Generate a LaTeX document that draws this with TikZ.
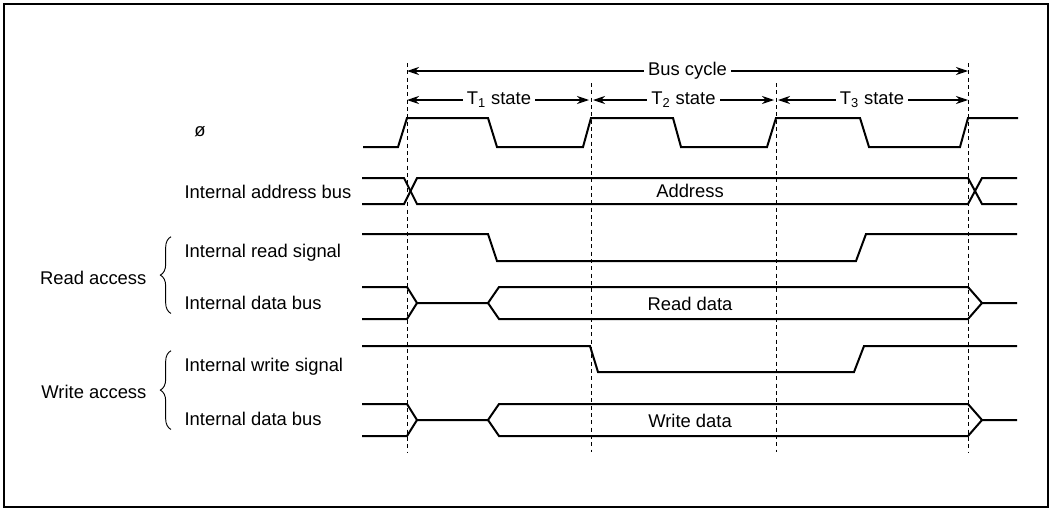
\documentclass[tikz,border=0pt]{standalone}
\usepackage{fontspec}
\setmainfont{Liberation Sans}
\usetikzlibrary{arrows.meta,decorations.pathreplacing}

\begin{document}
\begin{tikzpicture}[x=0.75pt,y=-0.75pt,
    wave/.style={line width=1.5pt,line join=miter},
    guide/.style={line width=0.6pt,dash pattern=on 3pt off 2.5pt},
    span/.style={line width=0.8pt,{Stealth[length=9pt,width=6pt]}-{Stealth[length=9pt,width=6pt]}},
    lbl/.style={font=\fontsize{13.8}{16}\selectfont,inner sep=1pt},
    sig/.style={lbl,anchor=base west},
    tag/.style={lbl,fill=white,inner xsep=3pt},
    curly/.style={line width=0.7pt,decorate,decoration={brace,amplitude=8pt}}]

  \useasboundingbox (0,0) rectangle (1052,511);
  \draw[line width=1.2pt] (4,4) rectangle (1048,507);

  % state boundaries
  \foreach \n/\x/\t in {a/407/63,b/591/83,c/776/83,d/968/63}{
    \coordinate (\n top) at (\x,\t);
    \coordinate (\n bot) at (\x,452);
    \draw[guide] (\n top) -- (\n bot);
  }

  % bus cycle and states
  \coordinate (cycA) at (407,71);
  \coordinate (cycD) at (968,71);
  \coordinate (stA) at (407,100);
  \coordinate (stB) at (591,100);
  \coordinate (stC) at (776,100);
  \coordinate (stD) at (968,100);
  \draw[span] (cycA) -- (cycD) node[tag,midway] (cyc) {Bus cycle};
  \draw[span,shorten >=1.5pt] (stA) -- (stB) node[tag,midway] (t1) {T\textsubscript{1} state};
  \draw[span,shorten <=1.5pt,shorten >=1.5pt] (stB) -- (stC) node[tag,midway] (t2) {T\textsubscript{2} state};
  \draw[span,shorten <=1.5pt] (stC) -- (stD) node[tag,midway] (t3) {T\textsubscript{3} state};

  % signal names
  \node[lbl] (clk) at (200,132) {ø};
  \node[sig] (addr) at (183,198) {Internal address bus};
  \node[sig] (rdsig) at (183,257) {Internal read signal};
  \node[sig] (rdbus) at (183,309) {Internal data bus};
  \node[sig] (wrsig) at (183,371) {Internal write signal};
  \node[sig] (wrbus) at (183,425) {Internal data bus};
  \node[lbl,anchor=base east] (rdacc) at (148,284) {Read access};
  \node[lbl,anchor=base east] (wracc) at (148,398) {Write access};
  \draw[curly] ([xshift=-9pt,yshift=-2pt]rdbus.south west) -- ([xshift=-9pt,yshift=4pt]rdsig.north west);
  \draw[curly] ([xshift=-9pt,yshift=-2pt]wrbus.south west) -- ([xshift=-9pt,yshift=4pt]wrsig.north west);

  % clock
  \draw[wave] (363,147) -- (398,147) -- (407,118) -- (488,118) -- (497,147)
    -- (583,147) -- (591,118) -- (673,118) -- (681,147) -- (767,147)
    -- (776,118) -- (860,118) -- (869,147) -- (960,147) -- (968,118) -- (1018,118);

  % address bus
  \draw[wave] (362,178) -- (404,178) -- (417,204) -- (968,204) -- (982,178) -- (1017,178);
  \draw[wave] (362,204) -- (404,204) -- (417,178) -- (968,178) -- (982,204) -- (1017,204);
  \node[lbl] (adv) at (690,191) {Address};

  % read access
  \draw[wave] (362,234) -- (488,234) -- (497,261) -- (856,261) -- (866,234) -- (1017,234);
  \draw[wave] (362,287) -- (407,287) -- (417,303) -- (488,303) -- (499,287)
    -- (968,287) -- (982,303) -- (1017,303);
  \draw[wave] (362,319) -- (407,319) -- (417,303);
  \draw[wave] (488,303) -- (499,319) -- (968,319) -- (982,303);
  \node[lbl] (rdv) at (690,304) {Read data};

  % write access
  \draw[wave] (362,346) -- (590,346) -- (598,372) -- (854,372) -- (864,346) -- (1017,346);
  \draw[wave] (362,404) -- (407,404) -- (417,420) -- (488,420) -- (499,404)
    -- (968,404) -- (982,420) -- (1017,420);
  \draw[wave] (362,436) -- (407,436) -- (417,420);
  \draw[wave] (488,420) -- (499,436) -- (968,436) -- (982,420);
  \node[lbl] (wrv) at (690,421) {Write data};
\end{tikzpicture}
\end{document}
